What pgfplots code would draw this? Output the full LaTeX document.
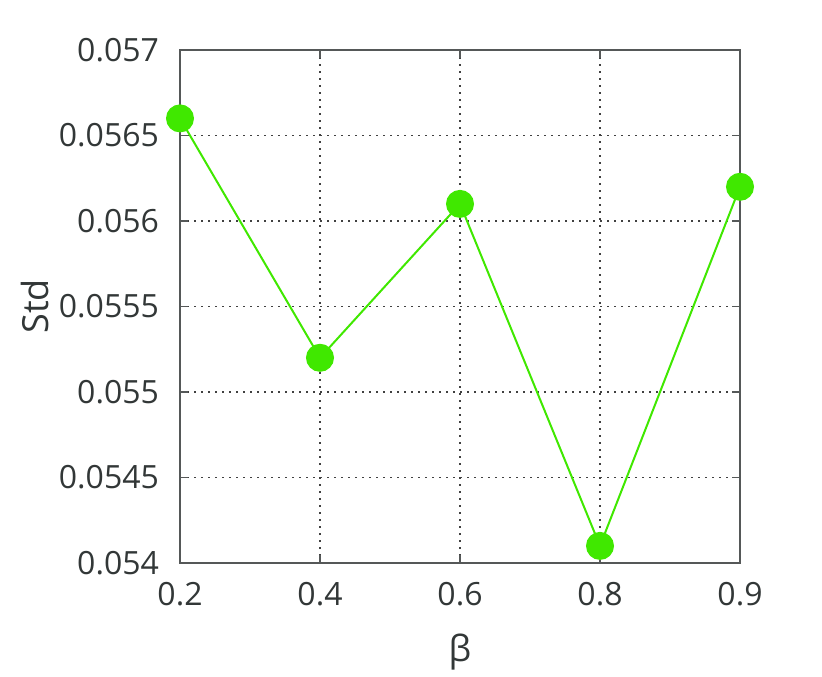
\documentclass[border=0pt]{standalone}
\usepackage{pgfplots}
\pgfplotsset{compat=1.18}
\usepackage{fontspec}
\setmainfont{Open Sans}
\definecolor{ptgreen}{RGB}{64,232,0}
\definecolor{txtgray}{RGB}{50,55,55}
\definecolor{axgray}{RGB}{85,88,88}
\begin{document}
\begin{tikzpicture}
\begin{axis}[
    name=ax,
    scale only axis,
    width=280pt,
    height=256.5pt,
    xmin=0, xmax=4,
    ymin=0.054, ymax=0.057,
    scaled y ticks=false,
    xtick={0,1,2,3,4},
    xticklabels={0.2,0.4,0.6,0.8,0.9},
    ytick={0.054,0.0545,0.055,0.0555,0.056,0.0565,0.057},
    yticklabels={0.054,0.0545,0.055,0.0555,0.056,0.0565,0.057},
    xlabel={β},
    ylabel={Std},
    tick align=inside,
    major tick length=4pt,
    axis line style={axgray, line width=1pt},
    tick style={axgray, line width=0.8pt},
    grid=major,
    grid style={black!75, line width=0.9pt, dash pattern=on 0.9pt off 2.6pt},
    every tick label/.style={font=\fontsize{16}{19}\selectfont, text=txtgray},
    label style={font=\fontsize{18}{21}\selectfont, text=txtgray},
    xticklabel style={yshift=-6pt},
    yticklabel style={xshift=-7pt},
    xlabel style={yshift=-7pt},
    ylabel style={yshift=-2pt},
    clip=false
]
\addplot[color=ptgreen, line width=1pt, mark=*, mark size=6.5pt,
    mark options={fill=ptgreen, draw=ptgreen}] coordinates {
    (0,0.0566)
    (1,0.0552)
    (2,0.0561)
    (3,0.0541)
    (4,0.0562)
};
\end{axis}
\path (ax.south west) ++(-90pt,-54.5pt) coordinate (bl);
\path (ax.south west) ++(321pt,281.5pt) coordinate (tr);
\path (bl) rectangle (tr);
\end{tikzpicture}
\end{document}
